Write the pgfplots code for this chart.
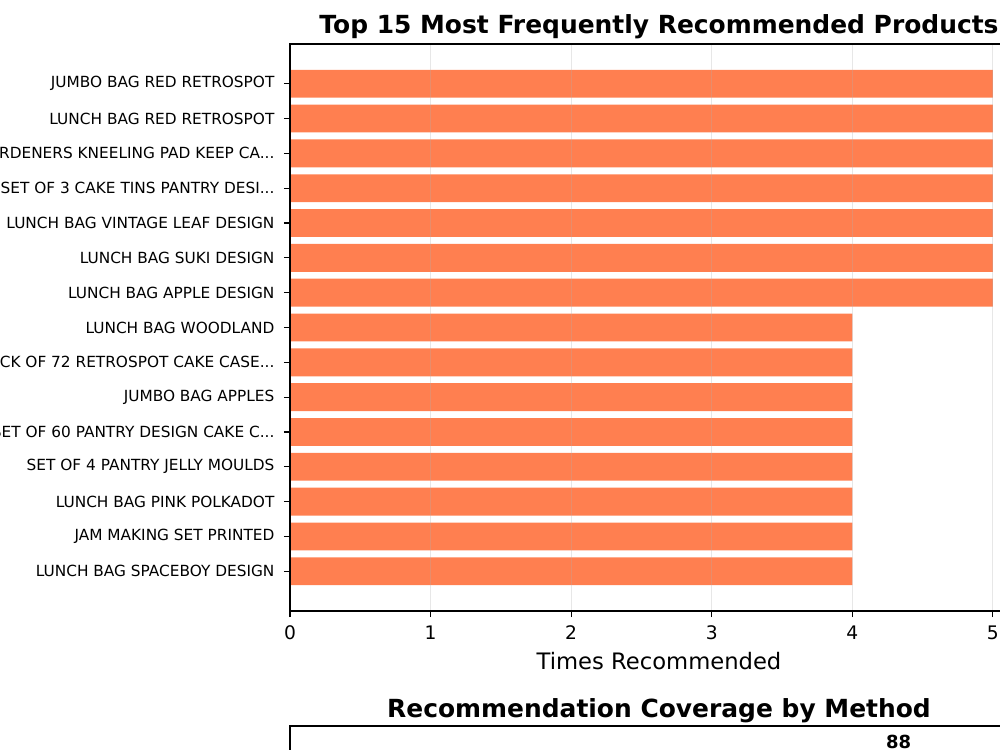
\documentclass[border=0pt]{standalone}
\usepackage{pgfplots}
\pgfplotsset{compat=1.18}
\usepackage{fontspec}
\setmainfont{DejaVu Sans}
\definecolor{barcoral}{RGB}{255,127,80}
\definecolor{gridgray}{RGB}{176,176,176}
% three periods for truncated product names (kept out of the \foreach list parser)
\newcommand\trunc{...}

\begin{document}
\begin{tikzpicture}
\path[use as bounding box] (0,0) rectangle (750pt,562.5pt);
\clip (0,0) rectangle (750pt,562.5pt);

% Top panel: most frequently recommended products
\begin{axis}[
  name=top,
  at={(217.5pt,104.25pt)}, anchor=south west,
  scale only axis, width=553.5pt, height=425.25pt,
  xbar, bar width=0.8,
  xmin=0, xmax=5.25,
  ymin=-1.14, ymax=15.14, y dir=reverse,
  xtick={0,1,2,3,4,5},
  ytick={0,1,2,3,4,5,6,7,8,9,10,11,12,13,14},
  yticklabels={JUMBO BAG RED RETROSPOT, LUNCH BAG RED RETROSPOT,
    GARDENERS KNEELING PAD KEEP CA\trunc, SET OF 3 CAKE TINS PANTRY DESI\trunc,
    LUNCH BAG VINTAGE LEAF DESIGN, LUNCH BAG SUKI DESIGN, LUNCH BAG APPLE DESIGN,
    LUNCH BAG WOODLAND, PACK OF 72 RETROSPOT CAKE CASE\trunc, JUMBO BAG APPLES,
    SET OF 60 PANTRY DESIGN CAKE C\trunc, SET OF 4 PANTRY JELLY MOULDS,
    LUNCH BAG PINK POLKADOT, JAM MAKING SET PRINTED, LUNCH BAG SPACEBOY DESIGN},
  /pgf/number format/assume math mode=true,
  tick align=outside, major tick length=4.5pt,
  xtick pos=bottom, ytick pos=left,
  tick style={black, line width=0.9pt},
  axis line style={black, line width=0.9pt},
  xmajorgrids, grid style={gridgray, opacity=0.3, line width=0.9pt},
  axis on top,
  yticklabel style={font=\fontsize{11.5}{13}\selectfont, anchor=east, inner sep=0pt, xshift=-7pt},
  xticklabel style={font=\fontsize{14}{16}\selectfont, anchor=base, inner sep=0pt, yshift=-16.5pt},
  xlabel={Times Recommended},
  xlabel style={font=\fontsize{17}{20}\selectfont, at={(axis description cs:0.5,0)}, anchor=base, yshift=-43.5pt},
]
\addplot[fill=barcoral, draw=none] coordinates {
  (5,0) (5,1) (5,2) (5,3) (5,4) (5,5) (5,6)
  (4,7) (4,8) (4,9) (4,10) (4,11) (4,12) (4,13) (4,14)};
\end{axis}
\node[anchor=base, inner sep=0pt, yshift=8pt, font=\bfseries\fontsize{18.7}{22}\selectfont]
  at (top.north) {Top 15 Most Frequently Recommended Products};

% Bottom panel: coverage by method
\begin{axis}[
  name=bottom,
  at={(217.5pt,18pt)}, anchor=north west,
  scale only axis, width=553.5pt, height=409.5pt,
  ybar, bar width=0.8,
  xmin=-0.54, xmax=2.54, ymin=0, ymax=92.4,
  xtick=\empty, ytick=\empty,
  axis line style={black, line width=0.9pt},
  clip=false,
  /pgf/number format/assume math mode=true,
  nodes near coords,
  every node near coord/.append style={font=\bfseries\fontsize{13.5}{16}\selectfont, anchor=base, inner sep=0pt, yshift=2.5pt, black},
]
\addplot[fill=barcoral, draw=none] coordinates {(2,88)};
\end{axis}
\node[anchor=base, inner sep=0pt, yshift=6pt, font=\bfseries\fontsize{18.7}{22}\selectfont]
  at (bottom.north) {Recommendation Coverage by Method};
\end{tikzpicture}
\end{document}
